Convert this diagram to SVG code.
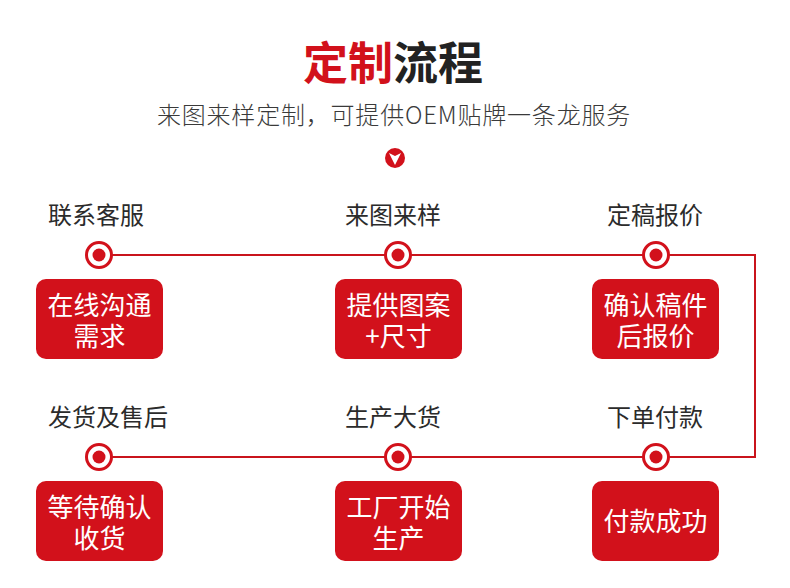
<svg xmlns="http://www.w3.org/2000/svg" width="790" height="588" viewBox="0 0 790 588">
<style>
text{font-family:"Noto Sans CJK SC","Noto Sans",sans-serif;}
.title{font-size:45px;font-weight:700;fill:#222;text-anchor:middle;}
.sub{font-size:24px;font-weight:300;fill:#3a3a3a;text-anchor:middle;letter-spacing:0.8px;}
.lbl{font-size:24px;fill:#2b2b2b;}
.box{fill:#d2111b;}
.bt{font-size:26px;fill:#fff;text-anchor:middle;}
.ring{fill:#fff;stroke:#d2111b;stroke-width:3;}
.dot{fill:#d2111b;}
.line{fill:none;stroke:#c9141c;stroke-width:2;}
</style>
<rect width="790" height="588" fill="#fff"/>
<g id="header">
<text class="title" x="393" y="80"><tspan fill="#d2111b">定制</tspan>流程</text>
<text class="sub" x="394" y="124">来图来样定制，可提供OEM贴牌一条龙服务</text>
<circle cx="395" cy="158" r="10" fill="#d2111b"/>
<path d="M389 153 L395 156 L401 153 L395 165 Z" fill="#fff"/>
</g>
<g id="connectors">
<path class="line" d="M99 255 H755 V457 H99"/>
</g>
<g id="n1">
<text class="lbl" x="48" y="224">联系客服</text>
<circle class="ring" cx="99" cy="255" r="12.5"/><circle class="dot" cx="99" cy="255" r="6.5"/>
<rect class="box" x="36" y="279" width="127" height="80" rx="10"/>
<text class="bt" x="99.5" y="315">在线沟通</text>
<text class="bt" x="99.5" y="346">需求</text>
</g>
<g id="n2">
<text class="lbl" x="345" y="224">来图来样</text>
<circle class="ring" cx="398" cy="255" r="12.5"/><circle class="dot" cx="398" cy="255" r="6.5"/>
<rect class="box" x="335" y="279" width="127" height="80" rx="10"/>
<text class="bt" x="398.5" y="315">提供图案</text>
<text class="bt" x="398.5" y="346">+尺寸</text>
</g>
<g id="n3">
<text class="lbl" x="607" y="224">定稿报价</text>
<circle class="ring" cx="656" cy="255" r="12.5"/><circle class="dot" cx="656" cy="255" r="6.5"/>
<rect class="box" x="592" y="279" width="127" height="80" rx="10"/>
<text class="bt" x="655.5" y="315">确认稿件</text>
<text class="bt" x="655.5" y="346">后报价</text>
</g>
<g id="n4">
<text class="lbl" x="607" y="426">下单付款</text>
<circle class="ring" cx="656" cy="457" r="12.5"/><circle class="dot" cx="656" cy="457" r="6.5"/>
<rect class="box" x="592" y="481" width="127" height="80" rx="10"/>
<text class="bt" x="655.5" y="531">付款成功</text>
</g>
<g id="n5">
<text class="lbl" x="345" y="426">生产大货</text>
<circle class="ring" cx="398" cy="457" r="12.5"/><circle class="dot" cx="398" cy="457" r="6.5"/>
<rect class="box" x="335" y="481" width="127" height="80" rx="10"/>
<text class="bt" x="398.5" y="517">工厂开始</text>
<text class="bt" x="398.5" y="548">生产</text>
</g>
<g id="n6">
<text class="lbl" x="48" y="426">发货及售后</text>
<circle class="ring" cx="99" cy="457" r="12.5"/><circle class="dot" cx="99" cy="457" r="6.5"/>
<rect class="box" x="36" y="481" width="127" height="80" rx="10"/>
<text class="bt" x="99.5" y="517">等待确认</text>
<text class="bt" x="99.5" y="548">收货</text>
</g>
</svg>
